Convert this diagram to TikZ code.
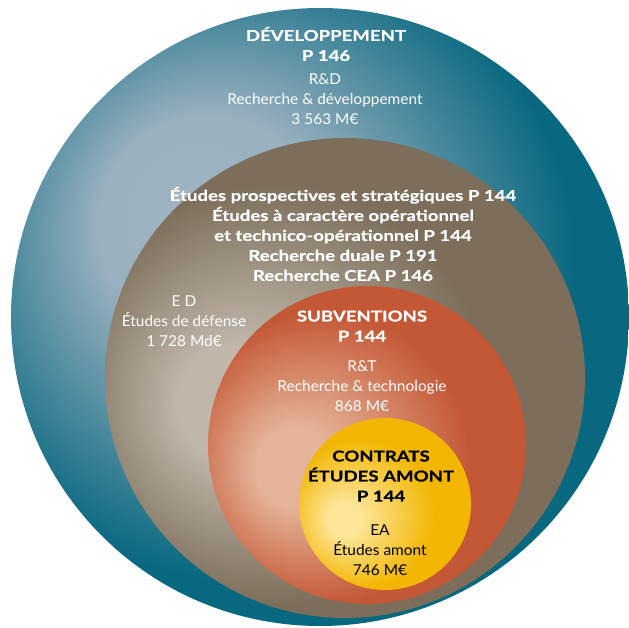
\documentclass[tikz,border=0pt]{standalone}
\usepackage{fontspec}
\setmainfont{Lato}
\newfontfamily\plainfont{Lato}[FakeStretch=1.03]
\newfontfamily\heavyfont{Lato}[FakeStretch=1.24,FakeBold=0.6]
\usetikzlibrary{positioning}

\definecolor{tealDark}{RGB}{8,104,128}
\definecolor{tealLight}{RGB}{160,180,194}
\definecolor{brownDark}{RGB}{124,110,90}
\definecolor{brownLight}{RGB}{192,182,170}
\definecolor{orangeDark}{RGB}{196,88,54}
\definecolor{orangeLight}{RGB}{229,180,152}
\definecolor{yellowDark}{RGB}{242,182,0}
\definecolor{yellowLight}{RGB}{253,228,150}

\pgfdeclareradialshading{tealglow}{\pgfpoint{-11bp}{9bp}}{color(0bp)=(tealLight); color(9bp)=(tealLight!95!tealDark); color(18bp)=(tealDark!55!tealLight); color(26bp)=(tealDark); color(50bp)=(tealDark)}
\pgfdeclareradialshading{brownglow}{\pgfpoint{-13bp}{-3bp}}{color(0bp)=(brownLight); color(6bp)=(brownLight); color(22bp)=(brownDark); color(50bp)=(brownDark)}
\pgfdeclareradialshading{orangeglow}{\pgfpoint{-13bp}{-4bp}}{color(0bp)=(orangeLight); color(6bp)=(orangeLight); color(23bp)=(orangeDark); color(50bp)=(orangeDark)}
\pgfdeclareradialshading{yellowglow}{\pgfpoint{-13bp}{-5bp}}{color(0bp)=(yellowLight); color(5bp)=(yellowLight); color(22bp)=(yellowDark); color(50bp)=(yellowDark)}

\begin{document}
\begin{tikzpicture}[
  x=1pt, y=-1pt,
  ring/.style={circle, draw=none, inner sep=0pt},
  lbl/.style={text=white, align=center, inner sep=0pt, font=\plainfont\fontsize{15}{20}\selectfont},
  ttl/.style={lbl, font=\heavyfont\bfseries\fontsize{15}{20}\selectfont}
  ]
  \useasboundingbox (0,0) rectangle (629,627);

  % Define circles
  \node[ring, minimum size=618pt, shading=tealglow] (dev) at (320,317) {};
  \node[ring, minimum size=480pt, shading=brownglow] (ed) at (345,378) {};
  \node[ring, minimum size=318pt, shading=orangeglow] (rt) at (367,445) {};
  \node[ring, minimum size=172pt, shading=yellowglow] (ea) at (385,504) {};

  % Labels
  \node[ttl] (devtitle) at (326,44) {DÉVELOPPEMENT\\P 146};
  \node[lbl] (devtext) at (325,99) {R\&D\\Recherche \& développement\\3 563 M€};
  \node[ttl] (edlist) at (343,234) {Études prospectives et stratégiques P 144\\
    Études à caractère opérationnel\\et technico-opérationnel P 144\\
    Recherche duale P 191\\Recherche CEA P 146};
  \node[lbl] (edtext) at (184,321) {E D\\Études de défense\\1 728 Md€};
  \node[ttl] (rttitle) at (362,326) {SUBVENTIONS\\P 144};
  \node[lbl] (rttext) at (362,386) {R\&T\\Recherche \& technologie\\868 M€};
  \node[ttl, text=black] (eatitle) at (381,476) {CONTRATS\\ÉTUDES AMONT\\P 144};
  \node[lbl, text=black] (eatext) at (380,550) {EA\\Études amont\\746 M€};
\end{tikzpicture}
\end{document}
